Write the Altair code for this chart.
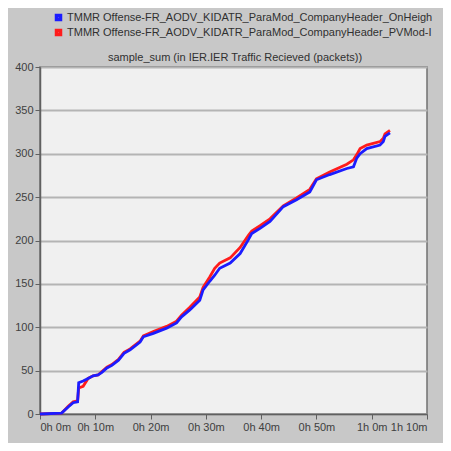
import altair as alt
import pandas as pd

minutes = [0, 3.9, 5.1, 6.0, 6.8, 7.0, 7.8, 8.7, 9.6, 10.5, 11.2, 12.1, 13.0, 14.2, 15.2,
           16.3, 18.1, 18.7, 20.5, 22.9, 24.7, 25.6, 27.1, 28.9, 29.5, 30.7, 31.6, 32.5,
           34.4, 36.2, 37.7, 38.3, 39.8, 41.6, 44.0, 46.4, 48.8, 50.0, 52.4, 55.5, 56.7,
           57.3, 57.9, 59.1, 61.5, 62.1, 62.4, 63.3]
blue_vals = [0, 1, 8, 13, 14, 36, 38, 41, 44, 45, 48, 53, 56, 62, 70, 74, 83, 89, 93, 99,
             105, 112, 120, 131, 143, 153, 160, 168, 174, 185, 201, 208, 214, 222, 239,
             247, 256, 270, 276, 283, 285, 295, 300, 306, 310, 314, 320, 324]
red_vals = [0, 1, 9, 14, 15, 30, 32, 41, 44, 45, 49, 54, 57, 63, 71, 75, 84, 90, 95, 101,
            107, 114, 123, 135, 146, 158, 168, 174, 180, 192, 206, 211, 217, 225, 240,
            249, 259, 271, 279, 288, 293, 299, 306, 310, 314, 318, 323, 327]

series_blue = "TMMR Offense-FR_AODV_KIDATR_ParaMod_CompanyHeader_OnHeigh"
series_red = "TMMR Offense-FR_AODV_KIDATR_ParaMod_CompanyHeader_PVMod-I"
title_text = "sample_sum (in IER.IER Traffic Recieved (packets))"
x_ticks = [0, 10, 20, 30, 40, 50, 60, 70]
y_ticks = [0, 50, 100, 150, 200, 250, 300, 350, 400]

rows = []
for t, v in zip(minutes, red_vals):
    rows.append({"t": t, "v": v, "series": series_red, "order": 0})
for t, v in zip(minutes, blue_vals):
    rows.append({"t": t, "v": v, "series": series_blue, "order": 1})
df = pd.DataFrame(rows)

lines = alt.Chart(df).mark_line(strokeWidth=2.8).encode(
    x=alt.X("t:Q", scale=alt.Scale(domain=[0, 70], nice=False),
            axis=alt.Axis(values=x_ticks, title=None, grid=False,
                          labelExpr="floor(datum.value/60) + 'h ' + (datum.value % 60) + 'm'",
                          tickSize=5, tickColor="#606060", domainColor="#606060",
                          domainWidth=1.5, labelFont="Liberation Sans", labelFontSize=11,
                          labelColor="#404040", labelPadding=2, labelOverlap=False)),
    y=alt.Y("v:Q", scale=alt.Scale(domain=[0, 400], nice=False),
            axis=alt.Axis(values=y_ticks, title=None, grid=True, gridColor="#b4b4b4",
                          gridWidth=2, tickSize=5, tickColor="#606060", domainColor="#606060",
                          domainWidth=1.5, labelFont="Liberation Sans", labelFontSize=11,
                          labelColor="#404040", labelPadding=2)),
    color=alt.Color("series:N",
                    scale=alt.Scale(domain=[series_blue, series_red], range=["#1c1cff", "#ff1c1c"]),
                    legend=alt.Legend(title=None, orient="none", legendX=13, legendY=-56,
                                      symbolType="square", symbolSize=16, symbolStrokeWidth=3.5,
                                      labelFont="Liberation Sans", labelFontSize=11,
                                      labelColor="#303030", labelLimit=1000, rowPadding=2,
                                      clipHeight=13, labelOffset=3)),
    order=alt.Order("order:Q"),
    detail="series:N",
)

title = alt.Chart(pd.DataFrame({"label": [title_text]})).mark_text(
    font="Liberation Sans", fontSize=11, color="#303030", baseline="bottom", align="center"
).encode(x=alt.value(195), y=alt.value(-4), text="label:N")

chart = alt.layer(lines, title).properties(
    width=387, height=347,
    background="#c8c8c8",
    padding={"left": 32, "top": 59, "right": 16, "bottom": 29},
    autosize=alt.AutoSizeParams(type="none"),
).configure_view(fill="#f0f0f0", stroke="#707070", strokeWidth=1.5)

chart.save("out.html", embed_options={"renderer": "svg", "actions": False})
